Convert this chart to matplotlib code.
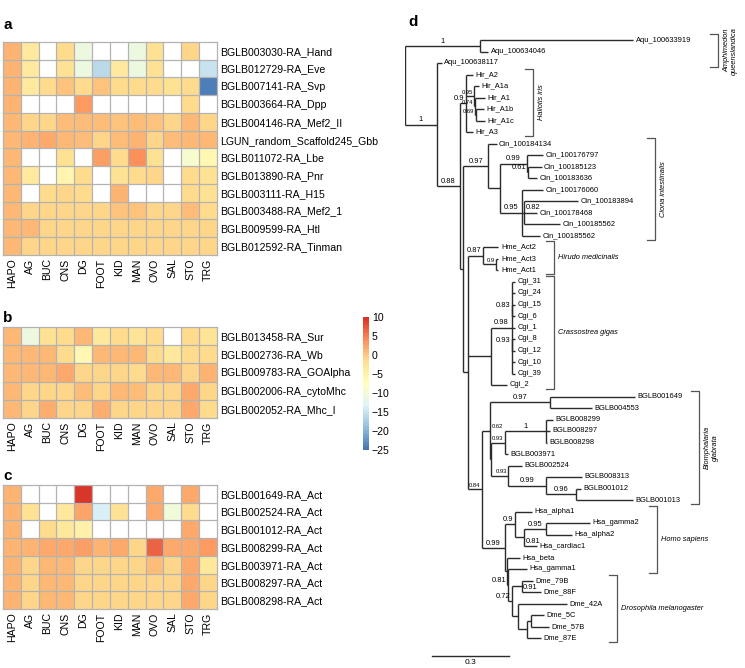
import numpy as np
import matplotlib
matplotlib.use("Agg")
import matplotlib.pyplot as plt
from matplotlib.colors import LinearSegmentedColormap, Normalize
from matplotlib.cm import ScalarMappable

plt.rcParams['font.family'] = ['Liberation Sans', 'DejaVu Sans']

nan = np.nan

# ---------------- heatmap data ----------------
tissues = ['HAPO', 'AG', 'BUC', 'CNS', 'DG', 'FOOT', 'KID', 'MAN', 'OVO', 'SAL', 'STO', 'TRG']

genes_a = ['BGLB003030-RA_Hand', 'BGLB012729-RA_Eve', 'BGLB007141-RA_Svp', 'BGLB003664-RA_Dpp',
           'BGLB004146-RA_Mef2_II', 'LGUN_random_Scaffold245_Gbb', 'BGLB011072-RA_Lbe',
           'BGLB013890-RA_Pnr', 'BGLB003111-RA_H15', 'BGLB003488-RA_Mef2_1', 'BGLB009599-RA_Htl',
           'BGLB012592-RA_Tinman']
vals_a = [
    [1.5, -3.5, nan, -1.5, -11, nan, nan, -11, -2, nan, -1, nan],
    [1.5, -3.5, nan, -2, -11, -16, -3.5, -11, -2, nan, nan, -15],
    [1.5, -3.5, -1.5, 0.5, -1.5, 0.5, -1.5, -1.5, -1.5, -2, -1.5, -24],
    [1.5, nan, nan, nan, 3, nan, nan, nan, nan, nan, -1.5, nan],
    [1.2, -1.2, -1.2, 0.8, 0.8, 0.8, 0.5, 0.8, 0.5, -1.0, 1.2, -1.2],
    [1.2, 1.5, 2.0, 1.0, 0.8, -1.2, 0.8, 1.5, -1.0, 0.8, 1.2, 1.0],
    [1.2, nan, nan, -2, nan, 2.8, -1.5, 3.8, -2, nan, -9, -6],
    [1.2, -3.5, nan, -5.5, -1.5, nan, -2, -1.5, -1, nan, -1.5, -2],
    [1.2, nan, -1.5, -1.2, -1.5, nan, 1.5, nan, nan, nan, -1.5, -2],
    [1.2, -1.2, -1.2, -1.2, -1.2, -1.2, 0.5, 0.5, -1.2, -1.2, 0.8, -1.5],
    [1.2, 1.0, -1.2, -1.2, -1.2, -1.2, -1.2, -1.2, -1.2, -1.2, -1.0, -1.2],
    [1.0, -1.2, -1.2, -1.2, -1.2, -1.2, -1.2, -1.2, -1.2, -1.2, -1.2, -1.2],
]

genes_b = ['BGLB013458-RA_Sur', 'BGLB002736-RA_Wb', 'BGLB009783-RA_GOAlpha',
           'BGLB002006-RA_cytoMhc', 'BGLB002052-RA_Mhc_I']
vals_b = [
    [1.2, -11, -2, -1.5, 1.2, -3, -1.5, -2.5, -1.5, nan, -1.5, -2.5],
    [1.2, 1.0, 1.0, -1.5, -6, 1.0, 1.0, 1.2, -1.5, -3, -1.5, -1.5],
    [1.2, 1.2, 1.2, 2.0, -1.2, -1.2, -1.2, -1.5, 1.0, 1.2, -1.0, 1.5],
    [1.2, -1.2, -1.2, -1.0, 0.8, -1.2, 1.0, 0.8, -1.2, -1.0, 2.0, -1.2],
    [1.0, -1.2, 1.8, -1.0, -1.2, 1.8, -1.2, -1.2, -1.2, -1.2, 2.0, -1.5],
]

genes_c = ['BGLB001649-RA_Act', 'BGLB002524-RA_Act', 'BGLB001012-RA_Act', 'BGLB008299-RA_Act',
           'BGLB003971-RA_Act', 'BGLB008297-RA_Act', 'BGLB008298-RA_Act']
vals_c = [
    [1.5, nan, nan, nan, 9.5, nan, nan, nan, 2.0, nan, 2.0, nan],
    [1.5, -2, nan, -3, 2.5, -13.5, -2, nan, 2, -10, -1.5, nan],
    [1.5, nan, -1.5, -3, -5, nan, nan, nan, nan, nan, 2.2, nan],
    [1.5, 1.5, 2.2, 2.2, 2.8, 1.5, 2.0, -1.0, 6.5, 2.0, 2.2, 3.0],
    [1.5, -1.2, 1.2, 1.2, -1.2, -1.2, -1.2, -1.2, 0.8, -1.2, 2.0, -3],
    [1.5, -1.2, 1.2, 1.2, -1.2, -1.2, -1.0, -1.2, -1.0, -1.2, 2.0, -1.2],
    [1.5, -1.2, 1.2, 1.2, -1.2, -1.2, -1.0, -1.2, -1.0, -1.2, 2.0, -1.2],
]

cbar_ticks = [10, 5, 0, -5, -10, -15, -20, -25]

# ---------------- tree data: (node, parent, depth from root) ----------------
aqu_edges = [
    ('root', None, 0.0), ('A', 'root', 0.290),
    ('Aqu_100633919', 'A', 0.882), ('Aqu_100634046', 'A', 0.322),
    ('B', 'root', 0.123), ('Aqu_100638117', 'B', 0.142), ('C', 'B', 0.213),
]
hir_edges = [
    ('Hir', 'C', 0.236), ('Hir_A2', 'Hir', 0.264), ('H1', 'Hir', 0.268),
    ('Hir_A1a', 'H1', 0.287), ('H2', 'H1', 0.271), ('Hir_A1', 'H2', 0.309),
    ('H3', 'H2', 0.273), ('Hir_A1b', 'H3', 0.305), ('Hir_A1c', 'H3', 0.309),
    ('Hir_A3', 'Hir', 0.262),
]
cin_edges = [
    ('D', 'C', 0.226), ('Cin', 'D', 0.322), ('Cin_100184134', 'Cin', 0.354),
    ('CinB', 'Cin', 0.367), ('CinC', 'CinB', 0.470), ('Cin_100176797', 'CinC', 0.535),
    ('CinC2', 'CinC', 0.477), ('Cin_100185123', 'CinC2', 0.528), ('Cin_100183636', 'CinC2', 0.509),
    ('CinD', 'CinB', 0.451), ('Cin_100176060', 'CinD', 0.535), ('CinE', 'CinD', 0.460),
    ('Cin_100183894', 'CinE', 0.670), ('Cin_100178468', 'CinE', 0.509),
    ('Cin_100185562', 'CinE', 0.599), ('Cin_100185562|2', 'CinD', 0.522),
]
hme_edges = [
    ('E', 'D', 0.245), ('Hme', 'E', 0.303), ('Hme_Act2', 'Hme', 0.361),
    ('HmeB', 'Hme', 0.352), ('Hme_Act3', 'HmeB', 0.361), ('Hme_Act1', 'HmeB', 0.361),
]
cgi_edges = [
    ('Cgi', 'E', 0.334), ('CgiM', 'Cgi', 0.412),
    ('Cgi_31', 'CgiM', 0.425), ('Cgi_24', 'CgiM', 0.425), ('CgA', 'CgiM', 0.413),
    ('Cgi_15', 'CgA', 0.425), ('Cgi_6', 'CgA', 0.425), ('Cgi_1', 'CgiM', 0.425),
    ('CgB', 'CgiM', 0.413), ('Cgi_8', 'CgB', 0.425), ('Cgi_12', 'CgB', 0.425),
    ('Cgi_10', 'CgiM', 0.425), ('Cgi_39', 'CgiM', 0.425), ('Cgi_2', 'Cgi', 0.393),
]
bgl_edges = [
    ('M', 'E', 0.296), ('BGA', 'M', 0.329), ('BG1', 'BGA', 0.560),
    ('BGLB001649', 'BG1', 0.889), ('BGLB004553', 'BG1', 0.722),
    ('BGB', 'BGA', 0.333), ('BGX', 'BGB', 0.387), ('BGX1', 'BGX', 0.544),
    ('BGLB008299', 'BGX1', 0.573), ('BGLB008297', 'BGX1', 0.560), ('BGLB008298', 'BGX1', 0.548),
    ('BGLB003971', 'BGX', 0.399), ('BGY', 'BGB', 0.399), ('BGLB002524', 'BGY', 0.451),
    ('BGZ', 'BGY', 0.544), ('BGLB008313', 'BGZ', 0.683), ('BGW', 'BGZ', 0.661),
    ('BGLB001012', 'BGW', 0.679), ('BGLB001013', 'BGW', 0.880),
]
hsa_edges = [
    ('HD', 'M', 0.387), ('Hsa1', 'HD', 0.425), ('Hsa_alpha1', 'Hsa1', 0.490),
    ('Hsa2', 'Hsa1', 0.460), ('Hsa3', 'Hsa2', 0.545), ('Hsa_gamma2', 'Hsa3', 0.715),
    ('Hsa_alpha2', 'Hsa3', 0.644), ('Hsa_cardiac1', 'Hsa2', 0.509),
    ('HD2', 'HD', 0.394), ('Hsa_beta', 'HD2', 0.445), ('Q', 'HD2', 0.399),
    ('Hsa_gamma1', 'Q', 0.470),
]
dme_edges = [
    ('R', 'Q', 0.412), ('DmeA', 'R', 0.451), ('Dme_79B', 'DmeA', 0.496),
    ('Dme_88F', 'DmeA', 0.525), ('DmeB', 'R', 0.436), ('Dme_42A', 'DmeB', 0.625),
    ('DmeC', 'DmeB', 0.470), ('DmeD', 'DmeC', 0.486), ('Dme_5C', 'DmeD', 0.537),
    ('Dme_57B', 'DmeD', 0.557), ('Dme_87E', 'DmeC', 0.525),
]

support = {
    'A': '1', 'B': '1', 'C': '0.88', 'Hir': '0.9', 'H1': '0.95', 'H2': '0.74', 'H3': '0.69',
    'Cin': '0.97', 'CinC': '0.99', 'CinC2': '0.61', 'CinD': '0.95', 'CinE': '0.82',
    'Hme': '0.87', 'HmeB': '0.9', 'CgiM': '0.98', 'CgA': '0.83', 'CgB': '0.93',
    'M': '0.84', 'BG1': '0.97', 'BGA': '0.62', 'BGX': '0.93', 'BGX1': '1', 'BGY': '0.93',
    'BGZ': '0.99', 'BGW': '0.96', 'HD': '0.99', 'Hsa1': '0.9', 'Hsa3': '0.95', 'Hsa2': '0.81',
    'Q': '0.81', 'R': '0.72', 'DmeA': '0.91',
}
small_support = {'H1', 'H2', 'H3', 'HmeB', 'M', 'BGA', 'BGX', 'BGY'}
label_right = {'CinE', 'BGA'}          # label just right of the node
label_right_low = {'Hsa2', 'DmeA'}     # right of the node, above its lowest child

clade_names = ['Amphimedon\nqueenslandica', 'Haliotis iris', 'Ciona intestinalis',
               'Hirudo medicinalis', 'Crassostrea gigas', 'Biomphalaria\nglabrata',
               'Homo sapiens', 'Drosophila melanogaster']
clade_first = ['Aqu_100633919', 'Hir_A2', 'Cin_100184134', 'Hme_Act2', 'Cgi_31',
               'BGLB001649', 'Hsa_alpha1', 'Dme_79B']
clade_last = ['Aqu_100638117', 'Hir_A3', 'Cin_100185562|2', 'Hme_Act1', 'Cgi_2',
              'BGLB001013', 'Hsa_gamma1', 'Dme_87E']
scale_len = 0.3

# ---------------- layout ----------------
W, H = 745, 668
fig = plt.figure(figsize=(W / 100, H / 100), dpi=100)

colors7 = ['#4575B4', '#91BFDB', '#E0F3F8', '#FFFFBF', '#FEE090', '#FC8D59', '#D73027']
cmap = LinearSegmentedColormap.from_list('rdylbu_r', colors7, N=100)
cmap.set_bad('white')
norm = Normalize(-25, 10)
grid_col = '#b3b3b3'


def px_rect(x0, y0, x1, y1):
    return [x0 / W, 1 - y1 / H, (x1 - x0) / W, (y1 - y0) / H]


def heatmap(rect, genes, vals):
    ax = fig.add_axes(rect)
    data = np.ma.masked_invalid(np.array(vals, dtype=float))
    ax.pcolormesh(data, cmap=cmap, norm=norm)
    nr, nc = data.shape
    ax.hlines(np.arange(1, nr), 0, nc, color=grid_col, lw=0.9)
    ax.vlines(np.arange(1, nc), 0, nr, color=grid_col, lw=0.9)
    ax.set_xlim(0, nc)
    ax.set_ylim(nr, 0)
    ax.set_xticks(np.arange(nc) + 0.5, tissues, rotation=90, fontsize=7.6)
    ax.set_yticks(np.arange(nr) + 0.5, genes, fontsize=7.6)
    ax.yaxis.tick_right()
    ax.tick_params(length=0, pad=2.5)
    for s in ax.spines.values():
        s.set_color(grid_col)
        s.set_linewidth(0.9)
    return ax


heatmap(px_rect(3, 42, 217, 255), genes_a, vals_a)
heatmap(px_rect(3, 327, 217, 418), genes_b, vals_b)
heatmap(px_rect(3, 485, 217, 609), genes_c, vals_c)

for lab, (x, y) in zip('abc', [(3, 25), (3, 318), (3, 476)]):
    fig.text(x / W, 1 - y / H, lab, fontsize=11, fontweight='bold', va='center', ha='left')
fig.text(408 / W, 1 - 22 / H, 'd', fontsize=11, fontweight='bold', va='center', ha='left')

cax = fig.add_axes(px_rect(363, 317, 369, 450))
cb = fig.colorbar(ScalarMappable(norm=norm, cmap=cmap), cax=cax, ticks=cbar_ticks)
cb.outline.set_visible(False)
cb.ax.tick_params(length=0, labelsize=7.6, pad=2)

# ---------------- tree ----------------
x0_px, unit_px = 405, 258.7      # root position, pixels per substitution unit
y0_px, leaf_px = 40, 11.5        # first leaf position, pixels per leaf
tax = fig.add_axes([x0_px / W, 0, (W - x0_px) / W, 1])
tax.set_xlim(0, (W - x0_px) / unit_px)
tax.set_ylim((H - y0_px) / leaf_px, -y0_px / leaf_px)
tax.axis('off')
dx = 1 / unit_px   # one pixel in data units
dy = 1 / leaf_px

edges = aqu_edges + hir_edges + cin_edges + hme_edges + cgi_edges + bgl_edges + hsa_edges + dme_edges
parent = {n: p for n, p, d in edges}
depth = {n: d for n, p, d in edges}
children = {}
for n, p, d in edges:
    if p is not None:
        children.setdefault(p, []).append(n)
leaves = [n for n, p, d in edges if n not in children]
ypos = {n: i for i, n in enumerate(leaves)}


def node_y(n):
    if n not in ypos:
        ys = [node_y(c) for c in children[n]]
        ypos[n] = (ys[0] + ys[-1]) / 2
    return ypos[n]


node_y('root')
line_kw = dict(color='#2b2b2b', lw=1.0, solid_capstyle='butt')
for n, p, d in edges:
    if n in children:
        ys = [ypos[c] for c in children[n]]
        tax.plot([d, d], [min(ys), max(ys)], **line_kw)
    if p is None:
        continue
    tax.plot([depth[p], d], [ypos[n], ypos[n]], **line_kw)
    if n not in children:
        tax.text(d + 2.5 * dx, ypos[n], n.split('|')[0], fontsize=5.4, va='center', ha='left')

for n, s in support.items():
    p = parent[n]
    blen = (depth[n] - depth[p]) * unit_px
    fs = 4.2 if n in small_support else 5.4
    if n in label_right_low:
        tax.text(depth[n] + 1.5 * dx, ypos[children[n][-1]] - 1.2 * dy, s, fontsize=fs,
                 ha='left', va='bottom')
    elif n in label_right:
        tax.text(depth[n] + 1.5 * dx, ypos[n] - 1.2 * dy, s, fontsize=fs, ha='left', va='bottom')
    elif blen >= 20:
        tax.text((depth[n] + depth[p]) / 2, ypos[n] - 1.2 * dy, s, fontsize=fs, ha='center', va='bottom')
    else:
        tax.text(depth[n] - 1.5 * dx, ypos[n] - 1.2 * dy, s, fontsize=fs, ha='right', va='bottom')

bracket_px = [718, 533, 655, 554, 554, 699, 657, 617]
rotated = [True, True, True, False, False, True, False, False]
for name, a, b, bx, rot in zip(clade_names, clade_first, clade_last, bracket_px, rotated):
    xb = (bx - x0_px) / unit_px
    ya, yb = ypos[a] - 0.5, ypos[b] + 0.35
    tax.plot([xb - 8 * dx, xb, xb, xb - 8 * dx], [ya, ya, yb, yb], color='#555555', lw=0.9)
    if rot:
        tax.text(xb + 5 * dx, (ya + yb) / 2, name, rotation=90, fontsize=5.3, style='italic',
                 ha='left', va='center', multialignment='center')
    else:
        tax.text(xb + 4 * dx, (ya + yb) / 2, name, fontsize=5.3, style='italic',
                 ha='left', va='center')

sb_x = (431.7 - x0_px) / unit_px
sb_y = (656 - y0_px) / leaf_px
tax.plot([sb_x, sb_x + scale_len], [sb_y, sb_y], color='#2b2b2b', lw=1.0)
tax.text(sb_x + scale_len / 2, sb_y + 3 * dy, f'{scale_len}', fontsize=6, ha='center', va='top')

fig.savefig('out.png', dpi=100)
